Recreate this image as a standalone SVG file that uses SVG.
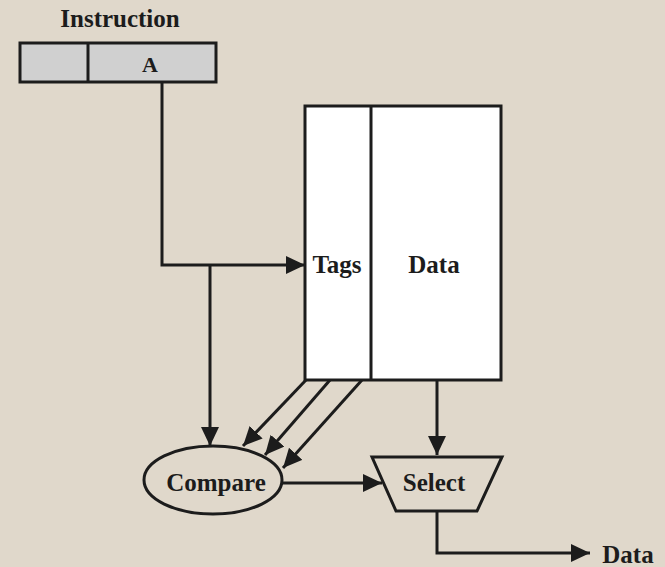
<svg xmlns="http://www.w3.org/2000/svg" width="665" height="567" viewBox="0 0 665 567">
  <style>
    .shape { stroke: #1c1c1c; stroke-width: 3; }
    .wire { fill: none; stroke: #1c1c1c; stroke-width: 3; }
    .label { font-family: "Liberation Serif", "Times New Roman", serif; font-weight: bold; font-size: 25px; fill: #1c1c1c; text-anchor: middle; }
  </style>
  <defs>
    <marker id="arrow" markerUnits="userSpaceOnUse" markerWidth="20" markerHeight="20" refX="19" refY="9" orient="auto">
      <path d="M0,0 L19,9 L0,18 Z" fill="#1c1c1c"/>
    </marker>
  </defs>

  <rect width="665" height="567" fill="#e0d8cb"/>

  <!-- Instruction register -->
  <g id="instruction">
    <text class="label" x="120" y="27">Instruction</text>
    <rect class="shape" x="20" y="43" width="196" height="39" fill="#d0d0d0"/>
    <line class="shape" x1="88" y1="43" x2="88" y2="82"/>
    <text class="label" x="150" y="72" style="font-size:22px">A</text>
  </g>

  <!-- Cache: tags and data arrays -->
  <g id="cache">
    <rect class="shape" x="305" y="106" width="196" height="274" fill="#ffffff"/>
    <line class="shape" x1="371" y1="106" x2="371" y2="380"/>
    <text class="label" x="337" y="273">Tags</text>
    <text class="label" x="434" y="273">Data</text>
  </g>

  <!-- Comparator -->
  <g id="compare">
    <ellipse class="shape" cx="213" cy="480" rx="69" ry="34" fill="none"/>
    <text class="label" x="216" y="491">Compare</text>
  </g>

  <!-- Selector -->
  <g id="select">
    <path class="shape" d="M372,457 H502 L477,511 H396 Z" fill="none"/>
    <text class="label" x="434" y="491">Select</text>
  </g>

  <!-- Output label -->
  <g id="output">
    <text class="label" x="628" y="563">Data</text>
  </g>

  <!-- Connectors -->
  <g id="connectors">
    <path class="wire" d="M162,82 V265 H305" marker-end="url(#arrow)"/>
    <path class="wire" d="M210,265 V446" marker-end="url(#arrow)"/>
    <path class="wire" d="M306,380 L243,446" marker-end="url(#arrow)"/>
    <path class="wire" d="M330,380 L265,455" marker-end="url(#arrow)"/>
    <path class="wire" d="M362,380 L283,468" marker-end="url(#arrow)"/>
    <path class="wire" d="M437,380 V455" marker-end="url(#arrow)"/>
    <path class="wire" d="M282,483 H382" marker-end="url(#arrow)"/>
    <path class="wire" d="M437,511 V553 H590" marker-end="url(#arrow)"/>
  </g>
</svg>
